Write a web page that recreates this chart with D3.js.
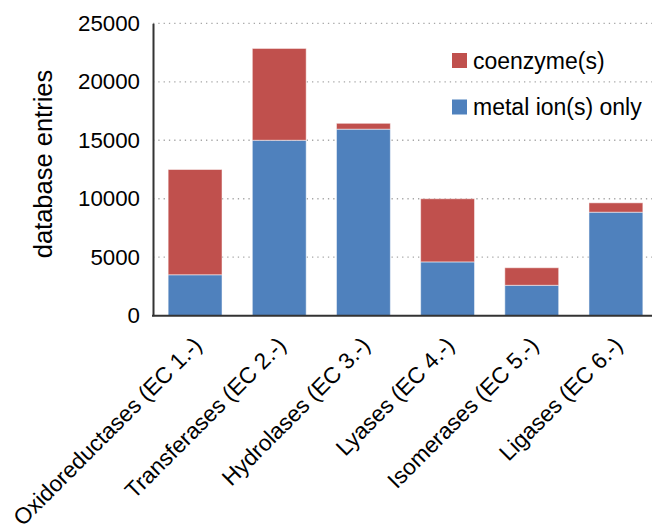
<!DOCTYPE html>
<html>
<head>
<meta charset="utf-8">
<script src="https://cdn.jsdelivr.net/npm/d3@7"></script>
<style>
  body { margin: 0; background: white; }
  svg { display: block; font-family: "Liberation Sans", Arial, sans-serif; }
</style>
</head>
<body>
<svg id="chart"></svg>
<script>
// enzyme classes and cofactor counts
const categories = [
    "Oxidoreductases (EC 1.-)",
    "Transferases (EC 2.-)",
    "Hydrolases (EC 3.-)",
    "Lyases (EC 4.-)",
    "Isomerases (EC 5.-)",
    "Ligases (EC 6.-)"
];
const metalOnly = [3500, 15000, 15950, 4600, 2600, 8850];
const coenzyme = [9000, 7850, 500, 5400, 1500, 800];
const yTicks = [0, 5000, 10000, 15000, 20000, 25000];
const seriesNames = ["coenzyme(s)", "metal ion(s) only"];

const width = 652, height = 526;
const plotLeft = 153, plotRight = 658, plotTop = 23.3, plotBottom = 315.7;

const svg = d3.select("#chart")
    .attr("width", width)
    .attr("height", height);

const x = d3.scaleBand()
    .domain(categories)
    .range([plotLeft, plotRight])
    .paddingInner(0.36)
    .paddingOuter(0.18);

const y = d3.scaleLinear()
    .domain([0, 25000])
    .range([plotBottom, plotTop]);

//dotted grid lines behind bars
svg.append("g")
    .selectAll("line")
    .data(yTicks.filter(d => d > 0))
    .join("line")
    .attr("x1", plotLeft)
    .attr("x2", width)
    .attr("y1", d => y(d))
    .attr("y2", d => y(d))
    .attr("stroke", "#a6a6a6")
    .attr("stroke-width", 1.3)
    .attr("stroke-dasharray", "1.3,4");

//stack the two series
const rows = categories.map((c, i) => ({ cat: c, metal: metalOnly[i], coenzyme: coenzyme[i] }));
const stack = d3.stack().keys(["metal", "coenzyme"])(rows);
const colors = { metal: "#4f81bd", coenzyme: "#c0504d" };

svg.append("g")
    .selectAll("g")
    .data(stack)
    .join("g")
    .attr("fill", s => colors[s.key])
    .selectAll("rect")
    .data(s => s)
    .join("rect")
    .attr("x", d => x(d.data.cat))
    .attr("y", d => y(d[1]))
    .attr("width", x.bandwidth())
    .attr("height", d => y(d[0]) - y(d[1]))
    .attr("stroke", "white")
    .attr("stroke-opacity", 0.5)
    .attr("stroke-width", 1);

//y axis
const yAxis = svg.append("g")
    .attr("transform", `translate(${plotLeft},0)`)
    .call(d3.axisLeft(y).tickValues(yTicks).tickSize(0).tickPadding(13).tickFormat(d3.format("d")));
yAxis.select(".domain").attr("stroke", "#333").attr("stroke-width", 2);
yAxis.selectAll("text")
    .style("font-size", "22.3px")
    .style("font-family", "Liberation Sans, Arial, sans-serif")
    .attr("fill", "#000");

//x axis line
svg.append("line")
    .attr("x1", plotLeft - 1)
    .attr("x2", width)
    .attr("y1", plotBottom)
    .attr("y2", plotBottom)
    .attr("stroke", "#333")
    .attr("stroke-width", 2);

//rotated category labels
svg.append("g")
    .selectAll("text")
    .data(categories)
    .join("text")
    .attr("transform", d => `translate(${x(d) + x.bandwidth() / 2 + 8},${plotBottom + 31}) rotate(-45)`)
    .attr("text-anchor", "end")
    .style("font-size", "22.6px")
    .attr("fill", "#000")
    .text(d => d);

//y-axis title
svg.append("text")
    .attr("transform", `translate(52,164) rotate(-90)`)
    .attr("text-anchor", "middle")
    .style("font-size", "25.5px")
    .attr("fill", "#000")
    .text("database entries");

//legend
const legend = svg.append("g")
    .selectAll("g")
    .data(seriesNames)
    .join("g")
    .attr("transform", (d, i) => `translate(452,${53 + i * 46.5})`);

legend.append("rect")
    .attr("width", 15)
    .attr("height", 15)
    .attr("fill", (d, i) => i === 0 ? colors.coenzyme : colors.metal);

legend.append("text")
    .attr("x", 21)
    .attr("y", 15.5)
    .style("font-size", "23px")
    .attr("fill", "#000")
    .text(d => d);
</script>
</body>
</html>
